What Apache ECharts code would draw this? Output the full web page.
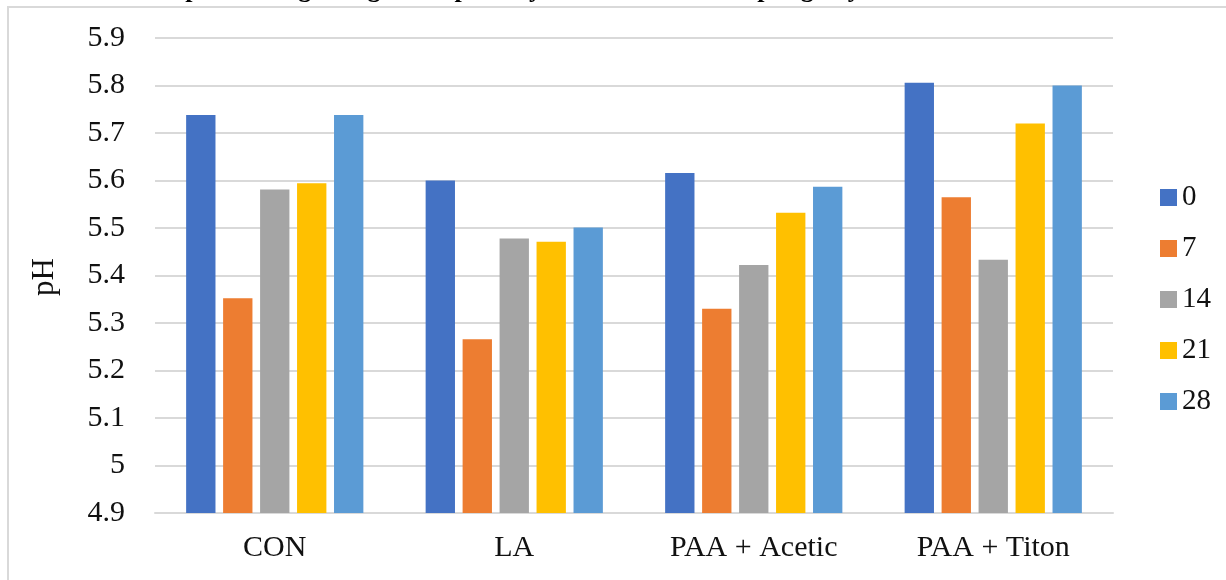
<!DOCTYPE html>
<html>
<head>
<meta charset="utf-8">
<script src="https://cdn.jsdelivr.net/npm/echarts@6/dist/echarts.min.js"></script>
<style>html,body{margin:0;padding:0;background:#fff;}#c{width:1226px;height:580px;}</style>
</head>
<body>
<div id="c"></div>
<script>
const categories = ['CON', 'LA', 'PAA + Acetic', 'PAA + Titon'];
const seriesNames = ['0', '7', '14', '21', '28'];
const day0  = [5.738, 5.600, 5.616, 5.806];
const day7  = [5.352, 5.266, 5.330, 5.565];
const day14 = [5.581, 5.478, 5.422, 5.433];
const day21 = [5.594, 5.471, 5.532, 5.720];
const day28 = [5.738, 5.501, 5.587, 5.800];
const yTicks = { min: 4.9, max: 5.9, interval: 0.1 };
const colors = ['#4472C4', '#ED7D31', '#A5A5A5', '#FFC000', '#5B9BD5'];

const values = [day0, day7, day14, day21, day28];
const font = '"Liberation Serif", "Times New Roman", serif';
const chart = echarts.init(document.getElementById('c'));
chart.setOption({
  animation: false,
  textStyle: { fontFamily: font },
  graphic: [
    { type: 'rect', shape: { x: 8, y: 7, width: 1400, height: 700 }, style: { fill: 'none', stroke: '#d9d9d9', lineWidth: 2 }, z: -1 },
    { type: 'text', left: 10, top: -23, style: { text: 'Table 11. Mean pH readings for ground pork by treatment and sampling day', font: 'bold 26px ' + font, fill: '#000' } },
    { type: 'text', x: 45, y: 277, rotation: Math.PI / 2, style: { text: 'pH', font: '31px ' + font, fill: '#111', align: 'center', verticalAlign: 'middle' } }
  ],
  grid: { left: 155, right: 113, top: 38, bottom: 67, containLabel: false },
  legend: {
    orient: 'vertical', left: 1155, top: 178, itemWidth: 17, itemHeight: 17, itemGap: 22,
    icon: 'rect', data: seriesNames,
    textStyle: { fontSize: 29, color: '#111', fontFamily: font }
  },
  xAxis: {
    type: 'category', data: categories,
    axisLine: { lineStyle: { color: '#d9d9d9', width: 2 } },
    axisTick: { show: false },
    axisLabel: { fontSize: 30, color: '#111', margin: 20, fontFamily: font }
  },
  yAxis: {
    type: 'value', min: yTicks.min, max: yTicks.max, interval: yTicks.interval,
    axisLine: { show: false }, axisTick: { show: false },
    splitLine: { lineStyle: { color: '#d9d9d9', width: 2 } },
    axisLabel: { fontSize: 30, color: '#111', margin: 30, fontFamily: font,
      formatter: v => String(Math.round(v * 10) / 10) }
  },
  series: seriesNames.map((n, i) => ({
    name: n, type: 'bar', data: values[i], barGap: '26%', barCategoryGap: '26%',
    itemStyle: { color: colors[i] }
  }))
});
</script>
</body>
</html>
